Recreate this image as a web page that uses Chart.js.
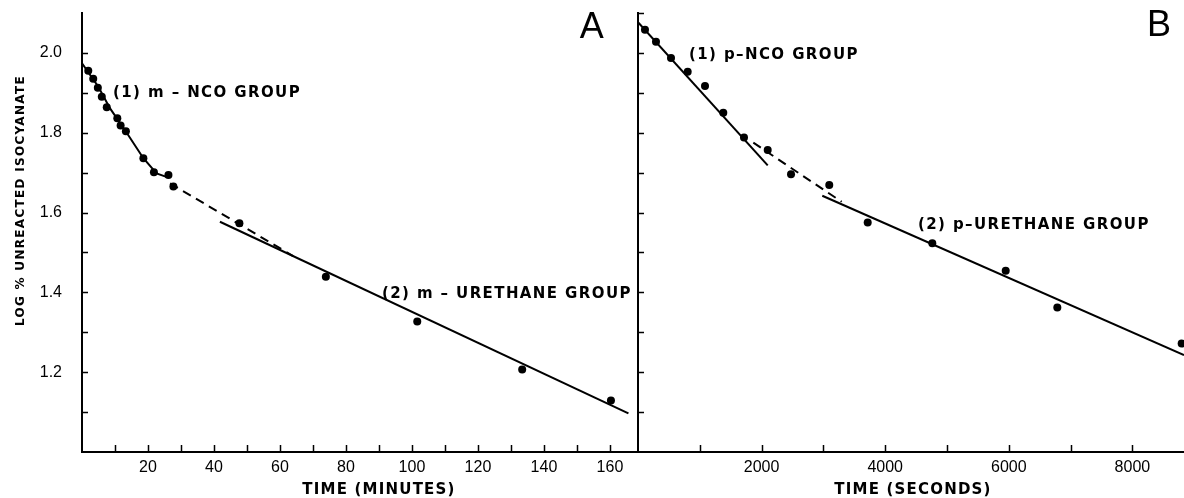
<!DOCTYPE html>
<html>
<head>
<meta charset="utf-8">
<title>Log % unreacted isocyanate vs time</title>
<script src="https://cdn.jsdelivr.net/npm/chart.js@4.4.1/dist/chart.umd.min.js"></script>
<style>
    html, body { margin: 0; padding: 0; background: #fff; }
    #wrap { position: relative; width: 1184px; height: 498px; overflow: hidden; }
    #chartA { position: absolute; left: 0; top: 0; }
    #chartB { position: absolute; left: 637px; top: 0; }
</style>
</head>
<body>
<div id="wrap">
    <canvas id="chartA" width="640" height="498"></canvas>
    <canvas id="chartB" width="547" height="498"></canvas>
</div>
<script>
// ---- Panel A : time in minutes ----
const minutesA = [1.9, 3.4, 4.8, 6.0, 7.5, 10.7, 11.7, 13.3, 18.6, 21.8, 26.2, 27.7, 47.7, 73.9, 101.6, 133.4, 160.3];
const logIsoA  = [1.955, 1.935, 1.913, 1.890, 1.864, 1.836, 1.818, 1.804, 1.736, 1.701, 1.694, 1.665, 1.573, 1.439, 1.327, 1.207, 1.129];

// (1) m-NCO curve, dashed bridge, (2) m-urethane line
const mNcoX = [0, 4.9, 8.5, 13, 18.6, 22.6, 26];
const mNcoY = [1.974, 1.916, 1.861, 1.807, 1.736, 1.698, 1.688];
const mBridgeX = [26.7, 64];
const mBridgeY = [1.673, 1.491];
const mUrethaneX = [41.8, 165.6];
const mUrethaneY = [1.577, 1.097];

// ---- Panel B : time in seconds ----
const secondsB = [113, 291, 534, 804, 1084, 1380, 1715, 2099, 2476, 3095, 3717, 4762, 5950, 6785, 8797];
const logIsoB  = [2.058, 2.028, 1.987, 1.953, 1.917, 1.850, 1.788, 1.757, 1.696, 1.669, 1.575, 1.523, 1.454, 1.362, 1.272];

const pNcoX = [0, 2099];
const pNcoY = [2.077, 1.718];
const pBridgeX = [1866, 3296];
const pBridgeY = [1.775, 1.627];
const pUrethaneX = [2982, 8835];
const pUrethaneY = [1.642, 1.243];

// axis ranges and ticks
const yRange = [1.0, 2.1];
const yTicks = [1.1, 1.2, 1.3, 1.4, 1.5, 1.6, 1.7, 1.8, 1.9, 2.0, 2.1];
const yLabels = [1.2, 1.4, 1.6, 1.8, 2.0];
const xRangeA = [0, 168.5];
const xTicksA = [10, 20, 30, 40, 50, 60, 70, 80, 90, 100, 110, 120, 130, 140, 150, 160];
const xLabelsA = [20, 40, 60, 80, 100, 120, 140, 160];
const xRangeB = [0, 8835];
const xTicksB = [1000, 2000, 3000, 4000, 5000, 6000, 7000, 8000];
const xLabelsB = [2000, 4000, 6000, 8000];

// text
const yTitle = 'LOG % UNREACTED ISOCYANATE';
const xTitleA = 'TIME (MINUTES)';
const xTitleB = 'TIME (SECONDS)';
const notesA = ['(1) m – NCO GROUP', '(2) m – URETHANE GROUP', 'A'];
const notesB = ['(1) p–NCO GROUP', '(2) p–URETHANE GROUP', 'B'];

const toXY = (xs, ys) => xs.map((v, i) => ({ x: v, y: ys[i] }));

const NOTE_FONT = 'bold 15px "DejaVu Sans"';
const TITLE_FONT = 'bold 15px "DejaVu Sans"';
const TICK_FONT = { family: 'Liberation Sans', size: 16 };

// inward tick marks along both axes
const inwardTicks = {
    id: 'inwardTicks',
    afterDraw(chart) {
        const { ctx, chartArea } = chart;
        const x = chart.scales.x, y = chart.scales.y;
        ctx.save();
        ctx.strokeStyle = '#000';
        ctx.lineWidth = 1.5;
        ctx.beginPath();
        x.ticks.forEach(t => {
            const px = Math.round(x.getPixelForValue(t.value)) + 0.5;
            ctx.moveTo(px, chartArea.bottom);
            ctx.lineTo(px, chartArea.bottom - 7);
        });
        y.ticks.forEach(t => {
            if (t.value >= y.max - 1e-6 && chart.canvas.id === 'chartA') return;
            const py = Math.round(y.getPixelForValue(t.value)) + 0.5;
            ctx.moveTo(chartArea.left, py);
            ctx.lineTo(chartArea.left + 6, py);
        });
        ctx.stroke();
        ctx.restore();
    }
};

// free text: annotations and axis titles
const notes = {
    id: 'notes',
    afterDraw(chart, args, opts) {
        const { ctx, chartArea } = chart;
        const x = chart.scales.x, y = chart.scales.y;
        (opts.items || []).forEach(it => {
            ctx.save();
            ctx.font = it.font;
            ctx.letterSpacing = (it.spacing || 0) + 'px';
            ctx.fillStyle = '#000';
            ctx.textAlign = it.align || 'left';
            ctx.textBaseline = 'middle';
            const px = it.xv !== undefined ? x.getPixelForValue(it.xv) : it.xp;
            const py = it.yv !== undefined ? y.getPixelForValue(it.yv) : chartArea.bottom + it.yp;
            ctx.translate(px, py);
            if (it.rotate) ctx.rotate(-Math.PI / 2);
            ctx.fillText(it.text, 0, 0);
            ctx.restore();
        });
    }
};

function datasets(px, py, curveX, curveY, bridgeX, bridgeY, lineX, lineY) {
    const line = { type: 'scatter', showLine: true, pointRadius: 0, borderColor: '#000', borderWidth: 2, fill: false };
    return [
        { ...line, data: toXY(curveX, curveY) },
        { ...line, data: toXY(bridgeX, bridgeY), borderDash: [9, 6] },
        { ...line, data: toXY(lineX, lineY) },
        {
            type: 'scatter', data: toXY(px, py), pointRadius: 4, pointBorderWidth: 0,
            backgroundColor: '#000', borderColor: '#000', clip: 6
        }
    ];
}

function noPadding(s) {
    s.paddingTop = 0; s.paddingBottom = 0; s.paddingLeft = 0; s.paddingRight = 0;
}

const has = (list, v) => list.some(l => Math.abs(l - v) < 1e-6);

function scales(xRange, xTicks, xLabels, yWidth, showY) {
    return {
        x: {
            type: 'linear', min: xRange[0], max: xRange[1],
            grid: { display: false },
            border: { display: true, color: '#000', width: 2 },
            afterBuildTicks: s => { s.ticks = xTicks.map(v => ({ value: v })); },
            ticks: {
                autoSkip: false, maxRotation: 0,
                color: '#000', font: TICK_FONT, padding: -2,
                callback: v => has(xLabels, v) ? String(v) : ''
            },
            afterFit: s => { s.height = 46; noPadding(s); }
        },
        y: {
            type: 'linear', min: yRange[0], max: yRange[1],
            grid: { display: false },
            border: { display: true, color: '#000', width: 2 },
            afterBuildTicks: s => { s.ticks = yTicks.map(v => ({ value: v })); },
            ticks: {
                display: showY, autoSkip: false,
                color: '#000', font: TICK_FONT, padding: 12,
                callback: v => has(yLabels, v) ? v.toFixed(1) : ''
            },
            afterFit: s => { s.width = yWidth; noPadding(s); }
        }
    };
}

const common = {
    responsive: false,
    animation: false,
    events: []
};

new Chart(document.getElementById('chartA'), {
    type: 'scatter',
    data: { datasets: datasets(minutesA, logIsoA, mNcoX, mNcoY, mBridgeX, mBridgeY, mUrethaneX, mUrethaneY) },
    options: {
        ...common,
        layout: { autoPadding: false, padding: { top: 13, right: 2, left: 0, bottom: 0 } },
        scales: scales(xRangeA, xTicksA, xLabelsA, 82, true),
        plugins: {
            legend: { display: false },
            tooltip: { enabled: false },
            notes: {
                items: [
                    { text: notesA[0], xv: 9.4, yv: 1.90, font: NOTE_FONT, spacing: 1.4 },
                    { text: notesA[1], xv: 90.9, yv: 1.396, font: NOTE_FONT, spacing: 1.4 },
                    { text: notesA[2], xv: 154.5, yv: 2.063, font: '36px "Liberation Sans"', align: 'center' },
                    { text: xTitleA, xv: 90, yp: 38, font: TITLE_FONT, spacing: 1.2, align: 'center' },
                    { text: yTitle, xp: 21, yv: 1.63, font: 'bold 12px "DejaVu Sans"', spacing: 1.3, align: 'center', rotate: true }
                ]
            }
        }
    },
    plugins: [inwardTicks, notes]
});

new Chart(document.getElementById('chartB'), {
    type: 'scatter',
    data: { datasets: datasets(secondsB, logIsoB, pNcoX, pNcoY, pBridgeX, pBridgeY, pUrethaneX, pUrethaneY) },
    options: {
        ...common,
        layout: { autoPadding: false, padding: { top: 13, right: 0, left: 0, bottom: 0 } },
        scales: scales(xRangeB, xTicksB, xLabelsB, 1, false),
        plugins: {
            legend: { display: false },
            tooltip: { enabled: false },
            notes: {
                items: [
                    { text: notesB[0], xv: 825, yv: 1.995, font: NOTE_FONT, spacing: 1.4 },
                    { text: notesB[1], xv: 4531, yv: 1.569, font: NOTE_FONT, spacing: 1.4 },
                    { text: notesB[2], xv: 8430, yv: 2.068, font: '36px "Liberation Sans"', align: 'center' },
                    { text: xTitleB, xv: 4450, yp: 38, font: TITLE_FONT, spacing: 1.2, align: 'center' }
                ]
            }
        }
    },
    plugins: [inwardTicks, notes]
});
</script>
</body>
</html>
